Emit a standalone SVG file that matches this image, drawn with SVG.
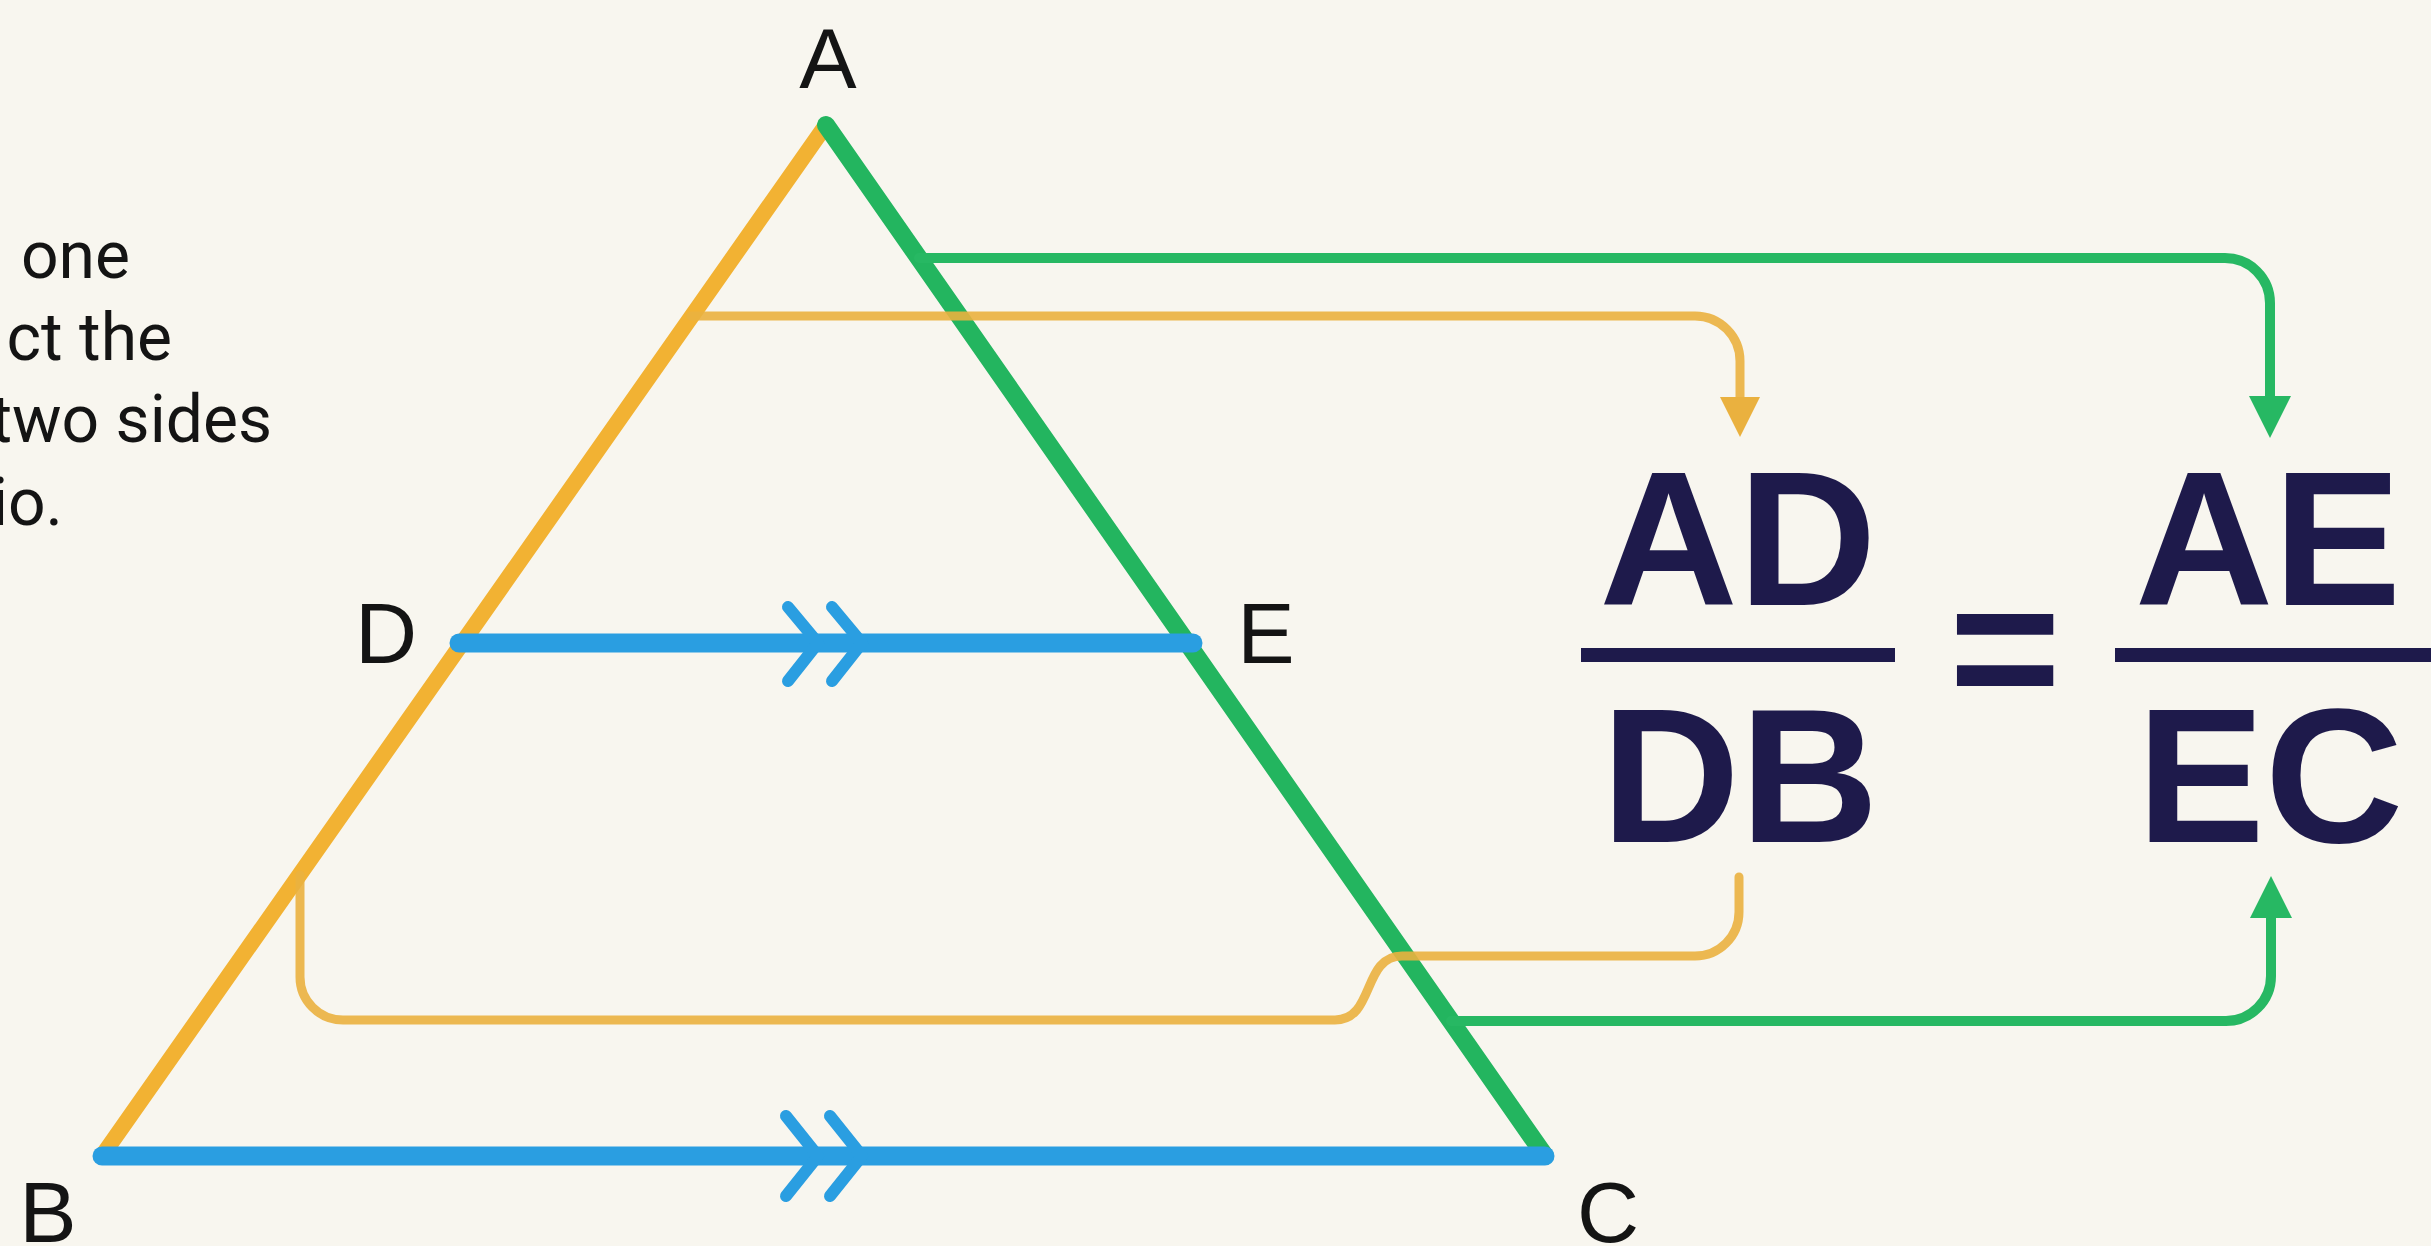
<svg xmlns="http://www.w3.org/2000/svg" width="2431" height="1246" viewBox="0 0 2431 1246">
<style>
.lbl{font-family:"Liberation Sans",Arial,sans-serif;font-size:86px;fill:#141414;text-anchor:middle}
.note{font-family:Roboto,"Liberation Sans",sans-serif;font-size:66px;fill:#141414;text-anchor:end}
.frac{font-family:"Liberation Sans",Arial,sans-serif;font-weight:bold;font-size:192px;fill:#1e1a4b;text-anchor:middle}
.side{fill:none;stroke-linecap:round;stroke-linejoin:round}
.blue{fill:none;stroke:#2a9ee1;stroke-width:19;stroke-linecap:round}
.chev{fill:none;stroke:#2a9ee1;stroke-width:12;stroke-linecap:round;stroke-linejoin:round}
.co{fill:none;stroke:#eab13f;stroke-width:9;stroke-linecap:round;stroke-opacity:0.9}
.cg{fill:none;stroke:#27b863;stroke-width:10;stroke-linecap:round}
</style>
<defs>
<marker id="arrO" markerUnits="userSpaceOnUse" markerWidth="40" markerHeight="40" viewBox="0 0 40 40" refX="20" refY="20" orient="auto"><path d="M0,0 L40,20 L0,40 z" fill="#eab13f"/></marker>
<marker id="arrG" markerUnits="userSpaceOnUse" markerWidth="42" markerHeight="42" viewBox="0 0 40 40" refX="20" refY="20" orient="auto"><path d="M0,0 L40,20 L0,40 z" fill="#27b863"/></marker>
</defs>
<rect width="2431" height="1246" fill="#f8f6ef"/>
<g id="statement">
<text class="note" x="130" y="278">one</text>
<text class="note" x="172" y="360">ct the</text>
<text class="note" x="272" y="442">two sides</text>
<text class="note" x="63" y="525">io.</text>
</g>
<g id="triangle">
<path id="side-AB" class="side" d="M826 125 L102 1156" stroke="#f2b233" stroke-width="16"/>
<path id="side-AC" class="side" d="M826 125 L1545 1156" stroke="#23b55f" stroke-width="18"/>
<path id="seg-DE" class="blue" d="M459 643 H1193"/>
<path id="seg-BC" class="blue" d="M102 1156 H1545"/>
<path class="chev" d="M788 607 L818 643 L788 681 M832 607 L862 643 L832 681"/>
<path class="chev" d="M786 1116 L818 1156 L786 1196 M830 1116 L862 1156 L830 1196"/>
</g>
<g id="labels">
<text id="label-A" class="lbl" x="828" y="88">A</text>
<text id="label-D" class="lbl" x="386" y="663">D</text>
<text id="label-E" class="lbl" x="1266" y="663">E</text>
<text id="label-B" class="lbl" x="48" y="1242">B</text>
<text id="label-C" class="lbl" x="1608" y="1242">C</text>
</g>
<g id="formula">
<text class="frac" x="1738" y="605">AD</text>
<rect x="1581" y="648" width="314" height="14" fill="#1e1a4b"/>
<text class="frac" x="1740" y="842">DB</text>
<text class="frac" x="2005" y="713">=</text>
<text class="frac" x="2268" y="605">AE</text>
<rect x="2115" y="648" width="320" height="14" fill="#1e1a4b"/>
<text class="frac" x="2270" y="842">EC</text>
</g>
<g id="connectors">
<path id="conn-AD" class="co" d="M691 316 H1695 A45 45 0 0 1 1740 361 V417" marker-end="url(#arrO)"/>
<path id="conn-DB" class="co" d="M300 875 V977 A43 43 0 0 0 343 1020 H1335 C1375 1020 1362 956 1402 956 H1695 A44 44 0 0 0 1739 912 V877"/>
<path id="conn-AE" class="cg" d="M919 258 H2225 A45 45 0 0 1 2270 303 V417" marker-end="url(#arrG)"/>
<path id="conn-EC" class="cg" d="M1451 1021 H2226 A45 45 0 0 0 2271 976 V897" marker-end="url(#arrG)"/>
</g>
</svg>
